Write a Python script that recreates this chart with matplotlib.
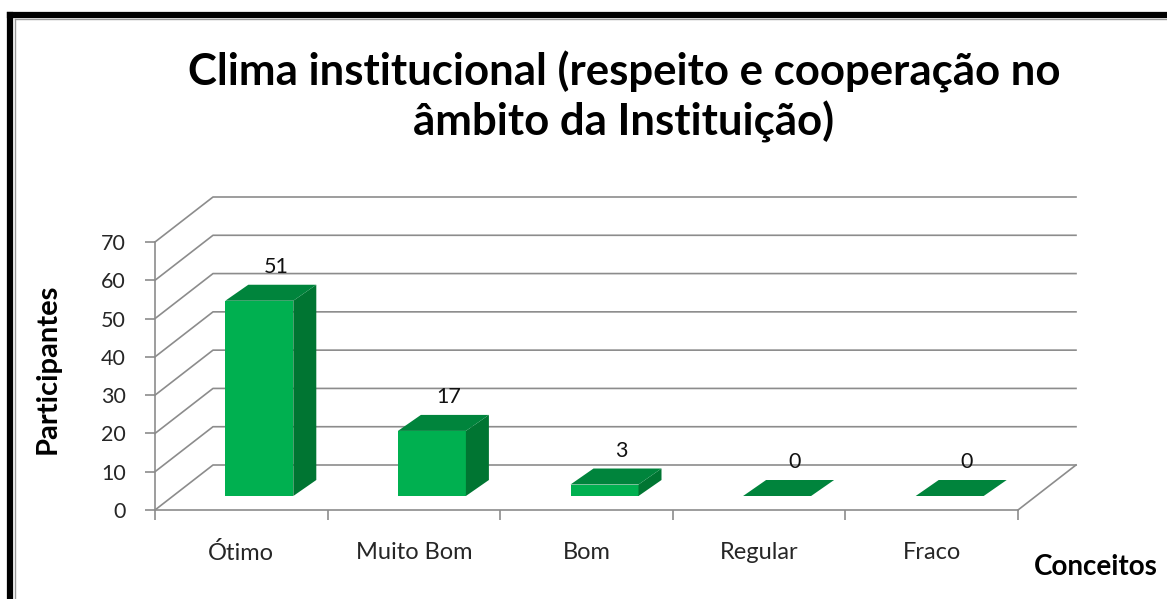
import matplotlib.pyplot as plt
from matplotlib.patches import Polygon
from matplotlib.lines import Line2D

# dados do gráfico
categorias = ['Ótimo', 'Muito Bom', 'Bom', 'Regular', 'Fraco']
participantes = [51, 17, 3, 0, 0]
ticks_y = [0, 10, 20, 30, 40, 50, 60, 70]

plt.rcParams['font.family'] = ['Lato', 'DejaVu Sans']

W, H = 1167, 599
fig = plt.figure(figsize=(W / 100, H / 100), dpi=100)
ax = fig.add_axes([155 / W, 89 / H, 863 / W, 268 / H])
ax.set_xlim(0, len(categorias))
ax.set_ylim(0, 70)

# conversão px -> unidades de dados (efeito 3D oblíquo)
sx = len(categorias) / 863
sy = 70 / 268
dx, dy = 58 * sx, 45 * sy          # profundidade da parede
bx0, by0 = 18 * sx, 14 * sy        # deslocamento da base da barra
bdx, bdy = 23 * sx, 16 * sy        # profundidade da barra
larg = 68 * sx

cinza = '#8c8c8c'
# linhas de grade na parede de fundo
for v in ticks_y:
    ax.plot([0, dx, len(categorias) + dx], [v, v + dy, v + dy],
            color=cinza, lw=1.2, clip_on=False, zorder=1)
ax.plot([len(categorias), len(categorias) + dx], [0, dy],
        color=cinza, lw=1.2, clip_on=False, zorder=1)

frente = '#00b050'
topo = '#00843c'
lado = '#007532'
for i, v in enumerate(participantes):
    c = i + 0.5
    x0 = c - larg / 2 + bx0
    x1 = x0 + larg
    y0 = by0
    y1 = by0 + v
    ax.add_patch(Polygon([(x0, y0), (x1, y0), (x1, y1), (x0, y1)],
                         closed=True, fc=frente, ec='none', clip_on=False, zorder=3))
    ax.add_patch(Polygon([(x1, y0), (x1 + bdx, y0 + bdy), (x1 + bdx, y1 + bdy), (x1, y1)],
                         closed=True, fc=lado, ec='none', clip_on=False, zorder=3))
    ax.add_patch(Polygon([(x0, y1), (x1, y1), (x1 + bdx, y1 + bdy), (x0 + bdx, y1 + bdy)],
                         closed=True, fc=topo, ec='none', clip_on=False, zorder=3))
    ax.text(c + 35 * sx, y1 + bdy + 8 * sy, str(v), ha='center', va='bottom',
            fontsize=15.5, color='#111111', zorder=4)

for s in ['top', 'right']:
    ax.spines[s].set_visible(False)
for s in ['left', 'bottom']:
    ax.spines[s].set_color(cinza)
    ax.spines[s].set_linewidth(1.2)

ax.set_yticks(ticks_y)
ax.tick_params(axis='y', length=7, width=1.2, color=cinza, pad=14,
               labelsize=15.5, labelcolor='#262626')
ax.set_xticks(range(len(categorias) + 1))
ax.set_xticklabels([])
ax.set_xticks([i + 0.5 for i in range(len(categorias))], minor=True)
ax.set_xticklabels(categorias, minor=True)
ax.tick_params(axis='x', which='major', length=7, width=1.2, color=cinza)
ax.tick_params(axis='x', which='minor', length=0, pad=23,
               labelsize=17, labelcolor='#262626')

fig.text(624 / W, 1 - 97 / H,
         'Clima institucional (respeito e cooperação no\nâmbito da Instituição)',
         ha='center', va='center', fontsize=31.5, fontweight='bold',
         linespacing=1.22)
fig.text(48 / W, 1 - 369 / H, 'Participantes', rotation=90, ha='center',
         va='center', fontsize=21, fontweight='bold')
fig.text(1034 / W, 1 - 567 / H, 'Conceitos', ha='left', va='center',
         fontsize=20, fontweight='bold')

# moldura
fig.add_artist(Line2D([10 / W, 1.1], [1 - 14.5 / H, 1 - 14.5 / H], color='black', lw=4.5))
fig.add_artist(Line2D([10 / W, 10 / W], [1 - 14.5 / H, -0.1], color='black', lw=4.5))
fig.add_artist(Line2D([14.5 / W, 1.1], [1 - 19 / H, 1 - 19 / H], color='#9a9a9a', lw=1))
fig.add_artist(Line2D([14.5 / W, 14.5 / W], [1 - 19 / H, -0.1], color='#9a9a9a', lw=1))

fig.savefig('out.png', dpi=100)
